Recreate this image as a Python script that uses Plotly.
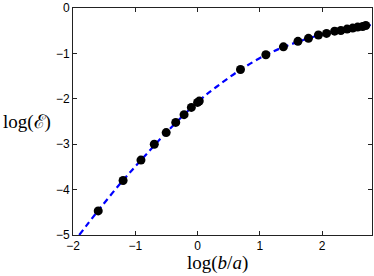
import plotly.graph_objects as go

# data points
x_pts = [-1.595, -1.196, -0.909, -0.695, -0.504, -0.351, -0.217, -0.100, 0.0, 0.027,
         0.689, 1.096, 1.378, 1.611, 1.78, 1.94, 2.07, 2.20, 2.30, 2.40, 2.49, 2.57, 2.65, 2.70]
y_pts = [-4.47, -3.80, -3.35, -3.00, -2.745, -2.52, -2.35, -2.19, -2.08, -2.05,
         -1.355, -1.03, -0.856, -0.734, -0.669, -0.595, -0.56, -0.51, -0.495, -0.464, -0.442, -0.42, -0.407, -0.386]

# dashed fitted curve
x_curve = [-1.90, -1.6, -1.2, -0.9, -0.5, 0.0, 0.3, 0.7, 1.1, 1.4, 1.8, 2.2, 2.5, 2.78]
y_curve = [-5.0, -4.47, -3.80, -3.34, -2.74, -2.07, -1.74, -1.35, -1.03, -0.85, -0.66, -0.51, -0.44, -0.375]

x_ticks = [-2, -1, 0, 1, 2]
y_ticks = [-5, -4, -3, -2, -1, 0]

fig = go.Figure()
fig.add_trace(go.Scatter(x=x_curve, y=y_curve, mode="lines", line_shape="spline",
                         line=dict(color="#0000ff", width=2.2, dash="6px,4px"),
                         showlegend=False, hoverinfo="skip"))
fig.add_trace(go.Scatter(x=x_pts, y=y_pts, mode="markers",
                         marker=dict(color="black", size=9),
                         showlegend=False))

axis_common = dict(showgrid=False, zeroline=False, showline=True, mirror="ticks",
                   linecolor="#222", linewidth=1, ticks="inside", ticklen=4,
                   tickcolor="#222", ticklabeloverflow="allow",
                   tickfont=dict(family="Liberation Sans, Arial, sans-serif", size=12, color="black"))

fig.update_xaxes(range=[-2, 2.8], tickvals=x_ticks, **axis_common)
fig.update_yaxes(range=[-5, 0], tickvals=y_ticks, **axis_common)

fig.add_annotation(text="log(<i>b</i>/<i>a</i>)", xref="paper", yref="paper",
                   x=0.483, y=-0.123, yanchor="middle", xanchor="center", showarrow=False,
                   font=dict(family="Liberation Serif, DejaVu Serif, serif", size=19, color="black"))
fig.add_annotation(text="log(ℰ)", xref="paper", yref="paper",
                   x=-0.24, y=0.5, xanchor="left", yanchor="middle", showarrow=False,
                   font=dict(family="Liberation Serif, DejaVu Serif, serif", size=19, color="black"))

fig.update_layout(width=374, height=276, margin=dict(l=73, r=1, t=5, b=41),
                  plot_bgcolor="white", paper_bgcolor="white")

fig.write_html("out.html", config={"displayModeBar": False},
               post_script="document.body.style.margin='0';document.body.style.overflow='hidden';")
